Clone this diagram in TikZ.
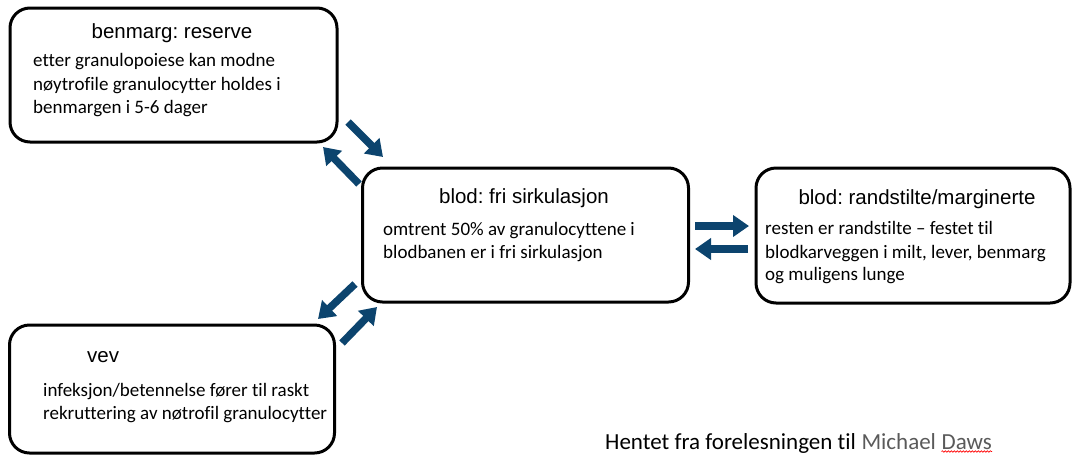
\documentclass[tikz,border=0pt]{standalone}
\usepackage{fontspec}
\setmainfont[Ligatures=NoCommon]{Carlito}
\newfontfamily\headfont{Liberation Sans}
\usetikzlibrary{arrows.meta,decorations.pathmorphing}
\definecolor{arrowblue}{RGB}{12,68,110}
\definecolor{lightgrey}{RGB}{90,90,90}
\frenchspacing
\tikzset{
  box/.style={draw=black, line width=3pt, rounded corners=20pt, rectangle, inner sep=0pt},
  head/.style={font=\headfont\fontsize{20.5}{24}\selectfont, inner sep=0pt, anchor=base},
  body/.style={font=\fontsize{19}{23}\selectfont, inner sep=0pt, anchor=base west},
  footfont/.style={font=\fontsize{23}{26}\selectfont, inner sep=0pt, anchor=base west},
  flow/.style={draw=arrowblue, line width=7.5pt, -{Triangle[width=21pt,length=16pt]}}
}
\begin{document}
\frenchspacing
\begin{tikzpicture}[x=1pt,y=-1pt]
\useasboundingbox (0,0) rectangle (1073,456);
% boxes
\node[box, minimum width=327pt, minimum height=134pt] (reserve) at (173.5,75) {};
\node[box, minimum width=326pt, minimum height=134pt] (fri) at (525.5,235) {};
\node[box, minimum width=314pt, minimum height=135pt] (marg) at (913,235.5) {};
\node[box, minimum width=325pt, minimum height=128pt] (vev) at (172,389) {};
% box 1
\node[head] (h1) at (172,38) {benmarg: reserve};
\node[body] (t1a) at (33,66) {etter granulopoiese kan modne};
\node[body] (t1b) at (33,90) {nøytrofile granulocytter holdes i};
\node[body] (t1c) at (33,113) {benmargen i 5-6 dager};
% box 2
\node[head] (h2) at (524,203) {blod: fri sirkulasjon};
\node[body] (t2a) at (383,235) {omtrent 50\% av granulocyttene i};
\node[body] (t2b) at (383,258) {blodbanen er i fri sirkulasjon};
% box 3
\node[head] (h3) at (917,204) {blod: randstilte/marginerte};
\node[body] (t3a) at (765,234) {resten er randstilte – festet til};
\node[body] (t3b) at (765,258) {blodkarveggen i milt, lever, benmarg};
\node[body] (t3c) at (765,280) {og muligens lunge};
% box 4
\node[head, anchor=base west] (h4) at (87,362) {vev};
\node[body] (t4a) at (43,396) {infeksjon/betennelse fører til raskt};
\node[body] (t4b) at (43,419) {rekruttering av nøtrofil granulocytter};
% footer
\node[footfont] (foot) at (605,449) {Hentet fra forelesningen til\ \kern0pt};
\node[footfont, text=lightgrey] (mich) at (foot.base east) {Michael\ \kern0pt};
\node[footfont, text=lightgrey] (daws) at (mich.base east) {Daws};
\draw[red, line width=0.6pt, decorate, decoration={snake, amplitude=0.8pt, segment length=3pt}]
  ([yshift=-2.5pt]daws.base west) -- ([yshift=-2.5pt]daws.base east);
% arrows
\coordinate (a1s) at (348,122); \coordinate (a1e) at (383,157);
\coordinate (a2s) at (359,184); \coordinate (a2e) at (323,147);
\coordinate (a3s) at (355,284); \coordinate (a3e) at (318,319);
\coordinate (a4s) at (342,343); \coordinate (a4e) at (377,307);
\coordinate (a5s) at (695,226); \coordinate (a5e) at (749,226);
\coordinate (a6s) at (748,249); \coordinate (a6e) at (695,249);
\draw[flow] (a1s) -- (a1e);
\draw[flow] (a2s) -- (a2e);
\draw[flow] (a3s) -- (a3e);
\draw[flow] (a4s) -- (a4e);
\draw[flow] (a5s) -- (a5e);
\draw[flow] (a6s) -- (a6e);
\end{tikzpicture}
\end{document}
